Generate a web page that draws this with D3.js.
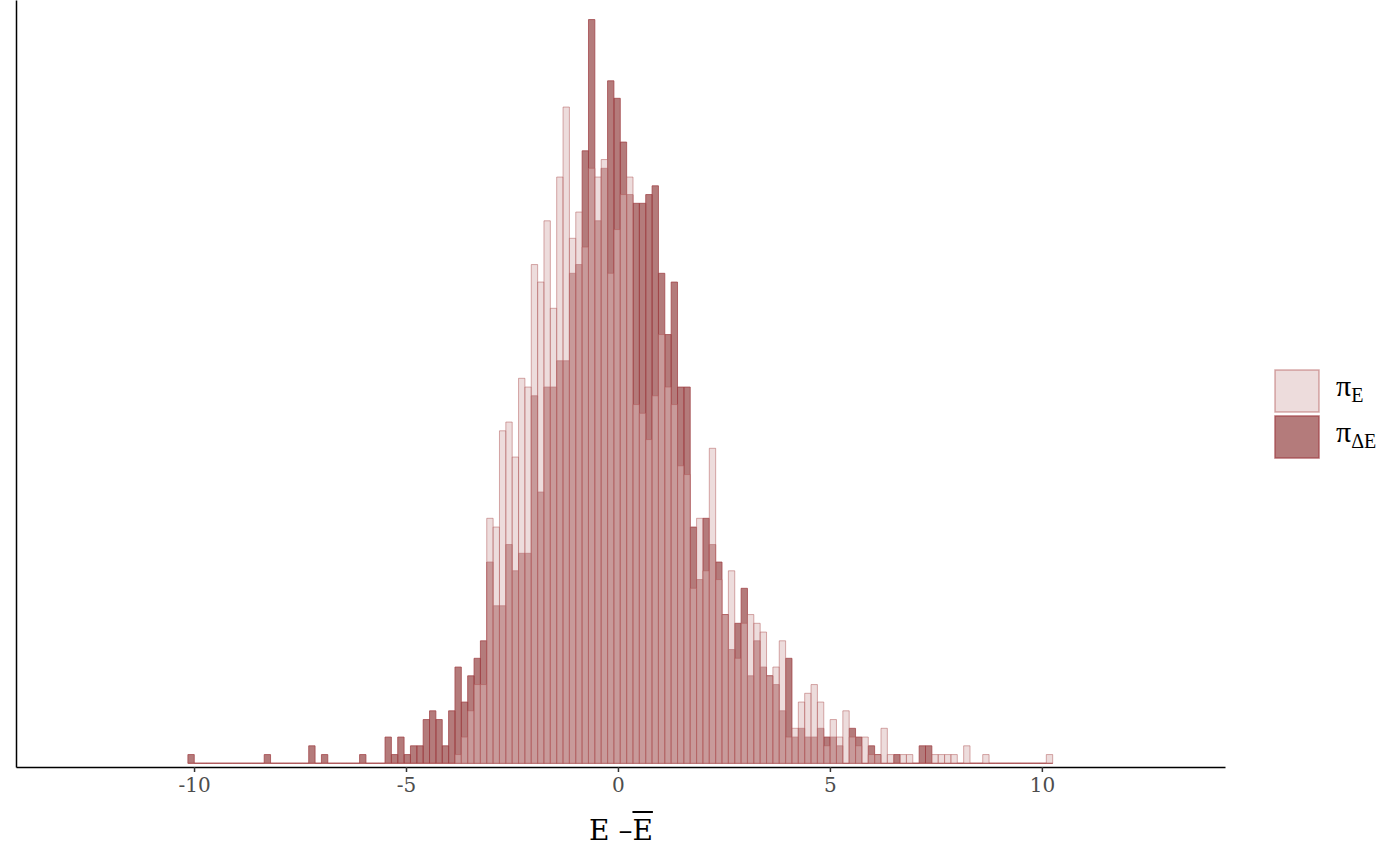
<!DOCTYPE html>
<html><head><meta charset="utf-8">
<script src="https://cdn.jsdelivr.net/npm/d3@7"></script>
<style>body{margin:0;background:#fff}svg{display:block}</style>
</head><body>
<svg id="chart" width="1400" height="866"></svg>
<script>
// ---- data (histogram counts, 136 bins of width 0.15 starting at -10.145) ----
const binStart = -10.145;
const binWidth = 0.15;
const xTicks = [-10, -5, 0, 5, 10];
const xTickLabels = ["-10", "-5", "0", "5", "10"];
const seriesKeys = ["πE", "πΔE"];
// π_E  (light series)
const countsPiE = [
  0,0,0,0,0,0,0,0,0,0,
  0,0,0,0,0,0,0,0,0,0,
  0,0,0,0,0,0,0,0,0,0,
  0,0,0,0,0,0,0,0,0,0,
  0,0,1,3,6,9,9,28,27,38,
  39,35,44,43,57,55,62,52,67,75,
  60,63,59,68,67,69,56,61,65,67,
  41,40,37,42,49,43,41,34,33,20,
  28,22,36,21,17,22,12,16,17,16,
  15,10,11,14,3,4,7,8,9,7,
  2,5,3,6,3,2,3,1,1,4,
  1,0,1,1,0,0,0,1,1,1,
  1,0,2,0,0,1,0,0,0,0,
  0,0,0,0,0,1
];
// π_ΔE (dark series)
const countsPiDE = [
  1,0,0,0,0,0,0,0,0,0,
  0,0,1,0,0,0,0,0,0,2,
  0,1,0,0,0,0,0,1,0,0,
  0,3,1,3,1,2,2,5,6,5,
  2,6,11,7,10,12,14,23,18,18,
  25,22,24,24,42,31,43,43,46,46,
  56,57,70,85,62,68,78,76,71,65,
  64,64,65,66,56,49,55,43,43,27,
  21,28,25,23,17,13,16,20,10,14,
  11,10,9,6,12,3,4,3,3,4,
  3,3,2,0,4,3,0,2,1,0,
  0,1,0,0,0,2,2,0,0,0,
  0,0,0,0,0,0,0,0,0,0,
  0,0,0,0,0,0
];

const svg = d3.select("#chart");
const x = d3.scaleLinear().domain([-14.2, 14.32]).range([16, 1225]);
const y = d3.scaleLinear().domain([0, 85]).range([763.3, 19.55]);

function barPath(v, i) {
  const x0 = x(binStart + i * binWidth), x1 = x(binStart + (i + 1) * binWidth);
  const y0 = y(0), y1 = y(v);
  return `M${x0},${y0}V${y1}H${x1}V${y0}Z`;
}

const styles = {
  dark:  {fill: "rgb(130,35,35)", fo: 0.6, stroke: "rgb(160,65,70)", so: 0.75},
  light: {fill: "rgb(220,185,185)", fo: 0.5, stroke: "rgb(177,90,90)", so: 0.5}
};

function drawSeries(data, st) {
  svg.append("g").selectAll("path").data(data).join("path")
    .attr("d", barPath)
    .attr("fill", st.fill).attr("fill-opacity", st.fo)
    .attr("stroke", st.stroke).attr("stroke-opacity", st.so)
    .attr("stroke-width", 1);
}
drawSeries(countsPiDE, styles.dark);
drawSeries(countsPiE, styles.light);

// axes
const xAxis = d3.axisBottom(x).tickValues(xTicks)
  .tickFormat((d, i) => xTickLabels[i]).tickSize(5).tickSizeOuter(0).tickPadding(6);
const gx = svg.append("g").attr("transform", "translate(0,767)").call(xAxis);
gx.select(".domain").attr("stroke", "#000").attr("stroke-width", 1.5);
gx.selectAll(".tick line").attr("stroke", "#333").attr("stroke-width", 1.5);
gx.selectAll(".tick text").attr("fill", "#4d4d4d")
  .style("font-family", "'DejaVu Serif', serif").style("font-size", "20px");

const yAxisScale = d3.scaleLinear().domain([y.invert(767), y.invert(0)]).range([767, 0]);
const gy = svg.append("g").attr("transform", "translate(16,0)")
  .call(d3.axisLeft(yAxisScale).tickValues([]).tickSizeOuter(0));
gy.select(".domain").attr("stroke", "#000").attr("stroke-width", 1.5);

// x-axis title  E − Ē
const title = svg.append("text").attr("x", 621).attr("y", 840)
  .attr("text-anchor", "middle")
  .style("font-family", "'DejaVu Serif', serif").style("font-size", "28px").attr("fill", "#000");
title.append("tspan").text("E ");
title.append("tspan").text("\u2013");
const ebar = title.append("tspan").text("E");
(function(){
  const ext = ebar.node().getExtentOfChar(0);
  svg.append("line").attr("x1", ext.x).attr("x2", ext.x + ext.width)
    .attr("y1", 812).attr("y2", 812).attr("stroke", "#000").attr("stroke-width", 2);
})();

// legend
const legend = svg.append("g");
const legendItems = [
  {key: seriesKeys[0], base: "π", sub: "E", st: styles.light, y: 370},
  {key: seriesKeys[1], base: "π", sub: "ΔE", st: styles.dark, y: 416}
];
legendItems.forEach(it => {
  legend.append("rect").attr("x", 1275).attr("y", it.y).attr("width", 44).attr("height", 42)
    .attr("fill", it.st.fill).attr("fill-opacity", it.st.fo)
    .attr("stroke", it.st.stroke).attr("stroke-opacity", it.st.so).attr("stroke-width", 1.5);
  const t = legend.append("text").attr("x", 1336).attr("y", it.y + 26)
    .style("font-family", "'Liberation Serif', serif").attr("fill", "#000");
  t.append("tspan").text(it.base).style("font-size", "30px");
  t.append("tspan").text(it.sub).attr("dx", 0).attr("dy", 6).style("font-size", "20px");
});
</script>
</body></html>
